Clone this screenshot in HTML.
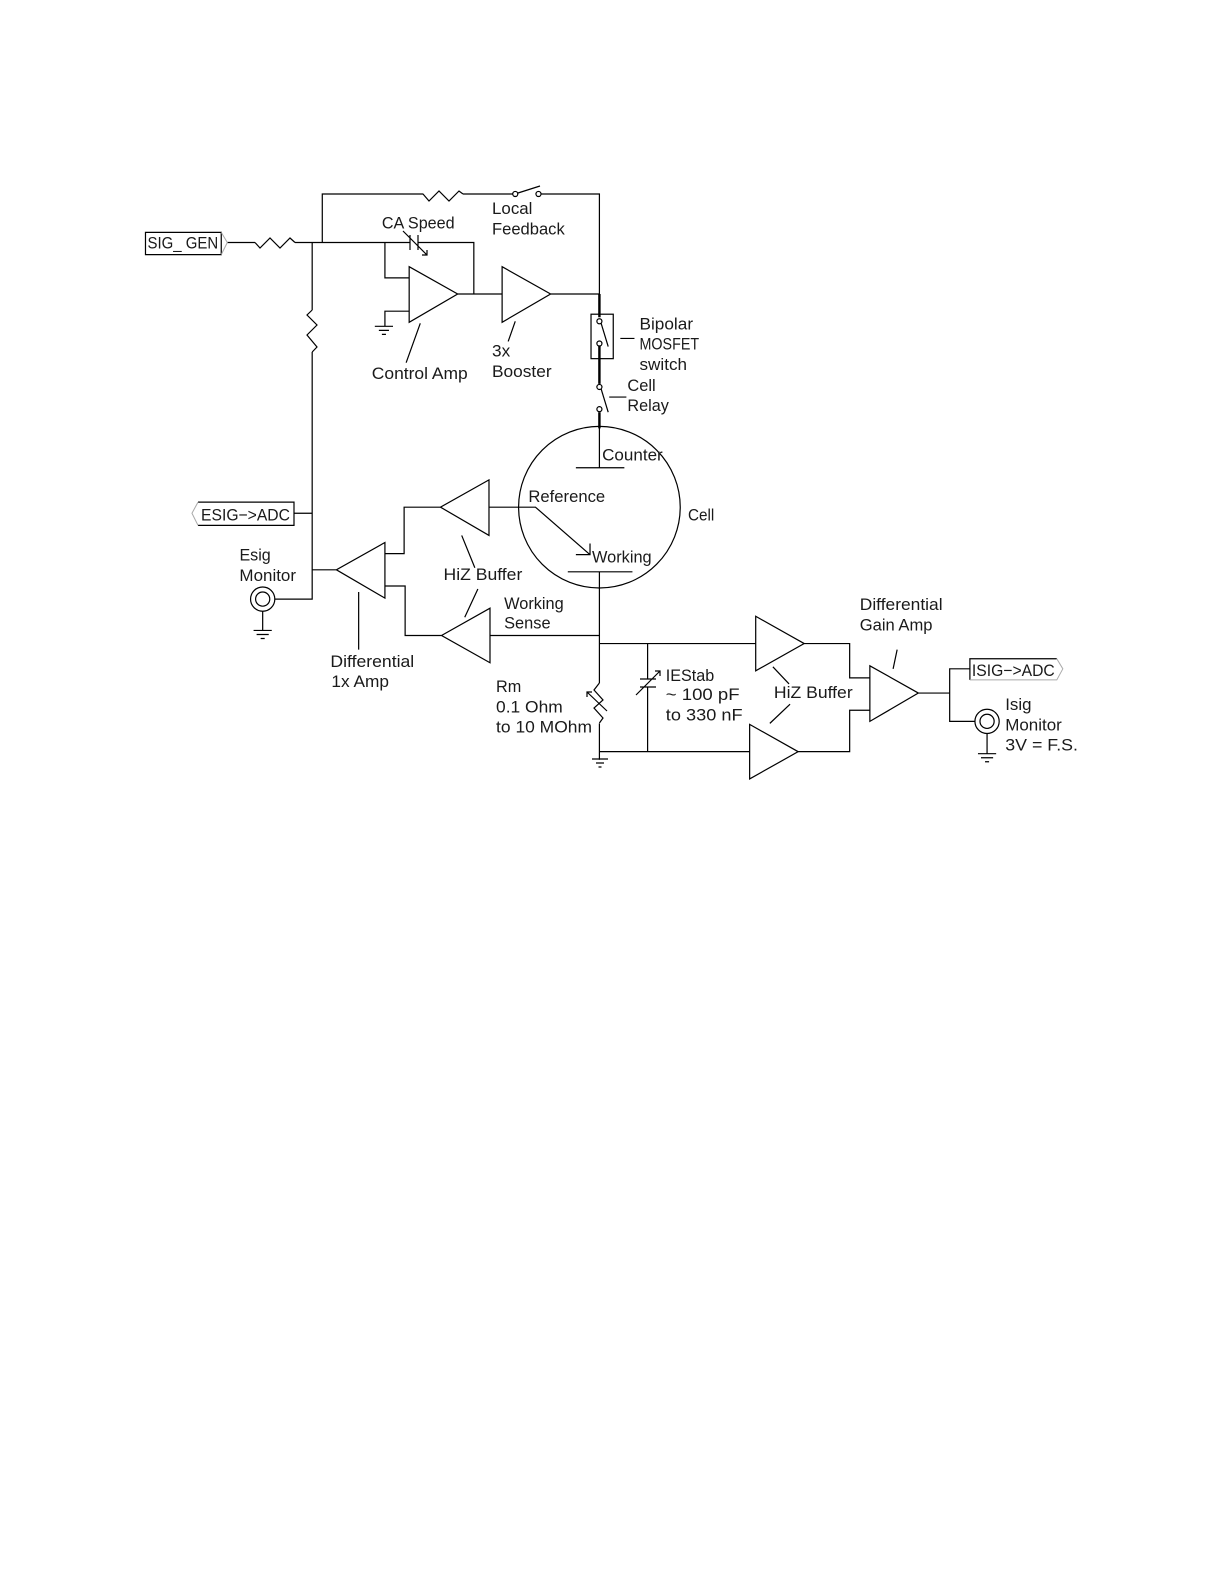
<!DOCTYPE html>
<html><head><meta charset="utf-8"><style>
html,body{margin:0;padding:0;background:#fff}
svg{display:block}
text{font-family:"Liberation Sans",sans-serif;font-size:16.5px;fill:#1a1a1a}
.w{fill:none;stroke:#000;stroke-width:1.2}
.t{fill:none;stroke:#000;stroke-width:2.4}
.g{fill:none;stroke:#aaa;stroke-width:1}
</style></head><body>
<svg width="1224" height="1584" viewBox="0 0 1224 1584" xmlns="http://www.w3.org/2000/svg">
<g transform="scale(1.0103)">
<g class="w">
<path d="M319 240V192H419M458.300 192H507.500"/>
<circle cx="510" cy="192" r="2.5"/><circle cx="533" cy="192" r="2.5"/>
<path d="M536 192H593.300V291"/>
<path d="M144 230H219V252H144Z"/>
<path d="M225 240H252.400M292 240H406M413.800 240H469V291"/>
<path d="M309 240V306.800M309 348.400V593H272"/>
<circle cx="260" cy="593" r="12"/><circle cx="260" cy="593" r="7"/>
<path d="M260 605V624M251 624H269M254 628H266M258 632H262"/>
<path d="M196 497H291V520H196M291 508H309"/>
<path d="M309 564H333L381 537V592L333 564"/>
<path d="M381 548H400V502H436L484 475V530L436 502M484 502H530L584 549M584 538V549H570"/>
<path d="M381 580H401V629H437L485 602V656L437 629M485 629H593.300"/>
<circle cx="593.300" cy="502" r="80"/>
<path d="M593.300 422V463M570 463H618M562 566H626M593.300 566V676M593.300 716V752"/>
<path d="M405 264V319L453 291ZM453 291H497M497 264V319L545 291ZM545 291H593.300"/>
<path d="M381 240V275H405M405 308H381V323M371 323H389M375 327H385M378 331H382"/>
<rect x="585" y="311" width="22" height="44"/>
<circle cx="593.300" cy="318" r="2.500"/><circle cx="593.300" cy="340" r="2.500"/><path d="M595 320L602 343"/>
<circle cx="593.300" cy="383" r="2.500"/><circle cx="593.300" cy="405" r="2.500"/><path d="M595 385L602 408"/>
<path d="M614 335H628M603 393H620"/>
<path d="M416 320L402 359M510 318L503 338M355 586V643M457 530L470 562M473 583L460 611M765 660L781 677M782 697L762 716M888 643L884 662"/>
<path d="M593.300 637H748M748 610V664L796 637ZM641 637V672M641 680V744M593.300 744H742M742 717V771L790 744Z"/>
<path d="M796 637H841V671H861M790 744H841V703H861M861 659V714L909 686ZM909 686H940V662H960M940 686V714H965"/>
<circle cx="977" cy="714" r="12"/><circle cx="977" cy="714" r="7"/>
<path d="M977 726V746M968 746H986M971 750H983M975 754H979"/>
<path d="M960 673V652H1046"/>
</g>
<path class="t" d="M593.300 291V314M593.300 343V380M593.300 408V424"/>
<path class="g" d="M219 230L225 240L219 252M196 497L190 508L196 520M1046 652L1052 662L1046 673H960"/>
<text lengthAdjust="spacingAndGlyphs" x="146" y="246" textLength="70">SIG_ GEN</text>
<text lengthAdjust="spacingAndGlyphs" x="199" y="515" textLength="88">ESIG−&gt;ADC</text>
<text lengthAdjust="spacingAndGlyphs" x="962" y="669" textLength="82">ISIG−&gt;ADC</text>
<text lengthAdjust="spacingAndGlyphs" x="378" y="226" textLength="72">CA Speed</text>
<text lengthAdjust="spacingAndGlyphs" x="487" y="212" textLength="40">Local</text>
<text lengthAdjust="spacingAndGlyphs" x="487" y="232" textLength="72">Feedback</text>
<text lengthAdjust="spacingAndGlyphs" x="633" y="326" textLength="53">Bipolar</text>
<text lengthAdjust="spacingAndGlyphs" x="633" y="346" textLength="59">MOSFET</text>
<text lengthAdjust="spacingAndGlyphs" x="633" y="366" textLength="47">switch</text>
<text lengthAdjust="spacingAndGlyphs" x="621" y="387" textLength="28">Cell</text>
<text lengthAdjust="spacingAndGlyphs" x="621" y="407" textLength="41">Relay</text>
<text lengthAdjust="spacingAndGlyphs" x="368" y="375" textLength="95">Control Amp</text>
<text lengthAdjust="spacingAndGlyphs" x="487" y="353" textLength="18">3x</text>
<text lengthAdjust="spacingAndGlyphs" x="487" y="373" textLength="59">Booster</text>
<text lengthAdjust="spacingAndGlyphs" x="596" y="456" textLength="60">Counter</text>
<text lengthAdjust="spacingAndGlyphs" x="523" y="497" textLength="76">Reference</text>
<text lengthAdjust="spacingAndGlyphs" x="586" y="557" textLength="59">Working</text>
<text lengthAdjust="spacingAndGlyphs" x="681" y="515" textLength="26">Cell</text>
<text lengthAdjust="spacingAndGlyphs" x="237" y="555" textLength="31">Esig</text>
<text lengthAdjust="spacingAndGlyphs" x="237" y="575" textLength="56">Monitor</text>
<text lengthAdjust="spacingAndGlyphs" x="439" y="574" textLength="78">HiZ Buffer</text>
<text lengthAdjust="spacingAndGlyphs" x="499" y="603" textLength="59">Working</text>
<text lengthAdjust="spacingAndGlyphs" x="499" y="622" textLength="46">Sense</text>
<text lengthAdjust="spacingAndGlyphs" x="327" y="660" textLength="83">Differential</text>
<text lengthAdjust="spacingAndGlyphs" x="328" y="680" textLength="57">1x Amp</text>
<text lengthAdjust="spacingAndGlyphs" x="491" y="685" textLength="25">Rm</text>
<text lengthAdjust="spacingAndGlyphs" x="491" y="705" textLength="66">0.1 Ohm</text>
<text lengthAdjust="spacingAndGlyphs" x="491" y="725" textLength="95">to 10 MOhm</text>
<text lengthAdjust="spacingAndGlyphs" x="659" y="674" textLength="48">IEStab</text>
<text lengthAdjust="spacingAndGlyphs" x="659" y="693" textLength="73">~ 100 pF</text>
<text lengthAdjust="spacingAndGlyphs" x="659" y="713" textLength="76">to 330 nF</text>
<text lengthAdjust="spacingAndGlyphs" x="766" y="691" textLength="78">HiZ Buffer</text>
<text lengthAdjust="spacingAndGlyphs" x="851" y="604" textLength="82">Differential</text>
<text lengthAdjust="spacingAndGlyphs" x="851" y="624" textLength="72">Gain Amp</text>
<text lengthAdjust="spacingAndGlyphs" x="995" y="703" textLength="26">Isig</text>
<text lengthAdjust="spacingAndGlyphs" x="995" y="723" textLength="56">Monitor</text>
<text lengthAdjust="spacingAndGlyphs" x="995" y="743" textLength="72">3V = F.S.</text>
</g>
<g class="w">
<path d="M423 194L429 201 439 191 449 201 459 191 463 194"/>
<path d="M255 242.500L260 248 270 238 280 248 290 238 295 242.500"/>
<path d="M312.200 310L307 315 317 325 307 335 317 347 312.200 352"/>
<path d="M518 193L540 186"/>
<path d="M410 235V250M418 235V250M403 231L427 255M422 255H427V250"/>
<path d="M599.400 683L594 690 603 700 594 708 603 718 599.400 723"/>
<path d="M607 711L587 692M587 697V692H592"/>
<path d="M640 679H656M640 687H656M636 695L660 671M655 671H660V676"/>
<path d="M592 759H608M596 763H604M598.500 767H601.500"/>
</g>
</svg>
</body></html>
